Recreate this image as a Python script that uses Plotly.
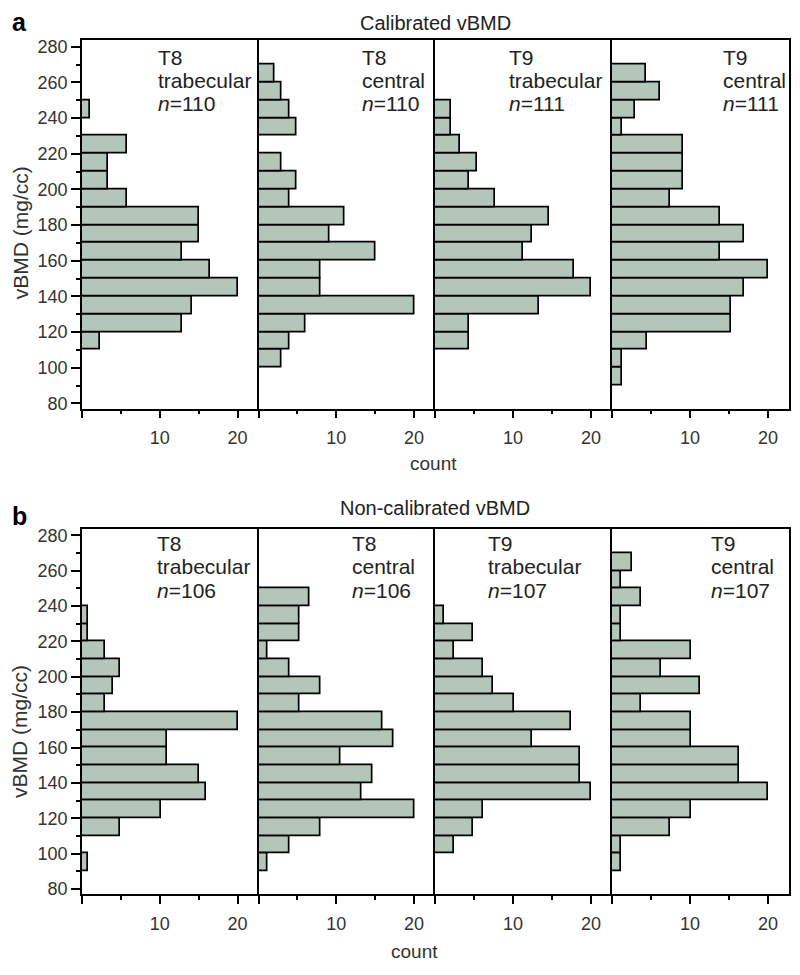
import plotly.graph_objects as go

# ── Data ─────────────────────────────────────────────────────────────────────

# lower edge of each 10 mg/cc bin (90-100 ... 260-270)
BIN_LO = [90, 100, 110, 120, 130, 140, 150, 160, 170, 180,
          190, 200, 210, 220, 230, 240, 250, 260]

# a) calibrated vBMD, counts per bin (same order as BIN_LO)
CAL_T8_TRAB = [0, 0, 2.3, 12.9, 14.2, 20, 16.4, 12.9, 15.1, 15.1,
               5.8, 3.3, 3.3, 5.8, 0, 1.0, 0, 0]
CAL_T8_CENT = [0, 2.9, 4.0, 6.1, 20, 8.0, 8.0, 15.1, 9.1, 11.0,
               4.0, 4.9, 2.9, 0, 4.9, 4.0, 2.9, 2.0]
CAL_T9_TRAB = [0, 0, 4.3, 4.3, 13.4, 20, 17.8, 11.3, 12.4, 14.6,
               7.7, 4.3, 5.4, 3.2, 2.1, 2.1, 0, 0]
CAL_T9_CENT = [1.3, 1.3, 4.5, 15.3, 15.3, 16.9, 20, 13.9, 16.9, 13.9,
               7.5, 9.1, 9.1, 9.1, 1.3, 3.0, 6.1, 4.4]

# b) non-calibrated vBMD
NON_T8_TRAB = [0.8, 0, 4.9, 10.1, 16.0, 15.0, 10.9, 10.9, 20, 2.9,
               4.0, 4.9, 2.9, 0.8, 0.8, 0, 0, 0]
NON_T8_CENT = [1.1, 4.0, 8.0, 20, 13.3, 14.6, 10.6, 17.4, 15.9, 5.3,
               8.0, 4.0, 1.1, 5.3, 5.3, 6.6, 0, 0]
NON_T9_TRAB = [0, 2.5, 4.9, 6.2, 20, 18.6, 18.6, 12.4, 17.4, 10.1,
               7.4, 6.2, 2.5, 4.9, 1.2, 0, 0, 0]
NON_T9_CENT = [1.2, 1.2, 7.5, 10.1, 20, 16.3, 16.3, 10.1, 10.1, 3.7,
               11.3, 6.3, 10.1, 1.2, 1.2, 3.7, 1.2, 2.6]

SITES   = ["T8", "T8", "T9", "T9"]
REGIONS = ["trabecular", "central", "trabecular", "central"]
N_CAL   = [110, 110, 111, 111]
N_NON   = [106, 106, 107, 107]

ROW_TITLES  = ["Calibrated vBMD", "Non-calibrated vBMD"]
ROW_LETTERS = ["a", "b"]

Y_TICKS    = [80, 100, 120, 140, 160, 180, 200, 220, 240, 260, 280]
X_TICKS    = [0, 10, 20]
X_TICKTEXT = ["", "10", "20"]

# ── Layout (positions given in page pixels, page body has an 8px margin) ─────

PAGE_W, PAGE_H, BODY = 800, 975, 8
W, H = PAGE_W - BODY, PAGE_H - BODY


def px(x):
    return (x - BODY) / W


def py(y):
    return 1 - (y - BODY) / H


COL_EDGES = [82, 258.5, 435, 612, 789]
ROW_PX    = [(37.7, 409), (530.5, 898.6)]    # (top, bottom) of each row
LABEL_X   = [[156, 360, 507, 721], [155, 350, 486, 709]]
LABEL_LINES_Y = [[55, 78, 101], [545, 568, 592]]
TITLE_Y   = [20, 509]
LETTER_Y  = [19, 517]
COUNT_XY  = [(433, 464), (415, 956)]
YTITLE_Y  = [232, 735]

BAR_FILL = "#b4c6b9"
FONT = "Liberation Sans, Arial, sans-serif"
INK = "#333333"

rows = [
    ([CAL_T8_TRAB, CAL_T8_CENT, CAL_T9_TRAB, CAL_T9_CENT], N_CAL),
    ([NON_T8_TRAB, NON_T8_CENT, NON_T9_TRAB, NON_T9_CENT], N_NON),
]

fig = go.Figure()
layout = {}
annotations = []


def note(x, y, text, size, color=INK, **kw):
    annotations.append(dict(
        x=px(x), y=py(y), xref="paper", yref="paper", text=text,
        showarrow=False, yanchor="middle",
        font=dict(size=size, color=color, family=FONT), **kw,
    ))


for r, (series, ns) in enumerate(rows):
    top, bot = ROW_PX[r]
    for c in range(4):
        idx = r * 4 + c + 1
        sfx = "" if idx == 1 else str(idx)

        ys = [lo + 5 for lo, v in zip(BIN_LO, series[c]) if v > 0]
        xs = [v for v in series[c] if v > 0]
        fig.add_trace(go.Bar(
            x=xs, y=ys, width=10, orientation="h",
            marker=dict(color=BAR_FILL, line=dict(color="black", width=1.7)),
            xaxis="x" + sfx, yaxis="y" + sfx, showlegend=False,
        ))

        layout["xaxis" + sfx] = dict(
            domain=[px(COL_EDGES[c]), px(COL_EDGES[c + 1])],
            range=[0, 22.7], anchor="y" + sfx,
            tickvals=X_TICKS, ticktext=X_TICKTEXT,
            ticks="outside", ticklen=8, tickwidth=1.5, tickcolor="black",
            ticklabelstandoff=4,
            minor=dict(dtick=5, tick0=0, ticks="outside", ticklen=4,
                       tickwidth=1.5, tickcolor="black"),
            showline=True, linecolor="black", linewidth=1.6, mirror=True,
            showgrid=False, zeroline=False,
            tickfont=dict(size=18, color=INK, family=FONT),
        )
        first = c == 0
        layout["yaxis" + sfx] = dict(
            domain=[py(bot), py(top)], range=[77, 283.5], anchor="x" + sfx,
            tickvals=Y_TICKS, showticklabels=first,
            ticks="outside" if first else "", ticklen=9, tickwidth=1.5,
            tickcolor="black",
            minor=dict(dtick=10, tick0=80, ticks="outside" if first else "",
                       ticklen=4, tickwidth=1.5, tickcolor="black"),
            showline=True, linecolor="black", linewidth=1.6,
            mirror=(c == 3),
            showgrid=False, zeroline=False,
            tickfont=dict(size=18, color=INK, family=FONT),
        )

        # panel label, one annotation per line
        lines = [SITES[c], REGIONS[c], f"<i>n</i>={ns[c]}"]
        for line, ly in zip(lines, LABEL_LINES_Y[r]):
            note(LABEL_X[r][c], ly, line, 21, "#222222", xanchor="left")

    note(435, TITLE_Y[r], ROW_TITLES[r], 20, "#222222", xanchor="center")
    note(10, LETTER_Y[r], f"<b>{ROW_LETTERS[r]}</b>", 25, "black", xanchor="left")
    note(COUNT_XY[r][0], COUNT_XY[r][1], "count", 19, xanchor="center")
    note(20, YTITLE_Y[r], "vBMD (mg/cc)", 21, xanchor="center", textangle=-90)

fig.update_layout(
    **layout,
    annotations=annotations,
    width=W, height=H,
    margin=dict(l=0, r=0, t=0, b=0),
    plot_bgcolor="white", paper_bgcolor="white",
    bargap=0,
)

fig.write_html("out.html")
